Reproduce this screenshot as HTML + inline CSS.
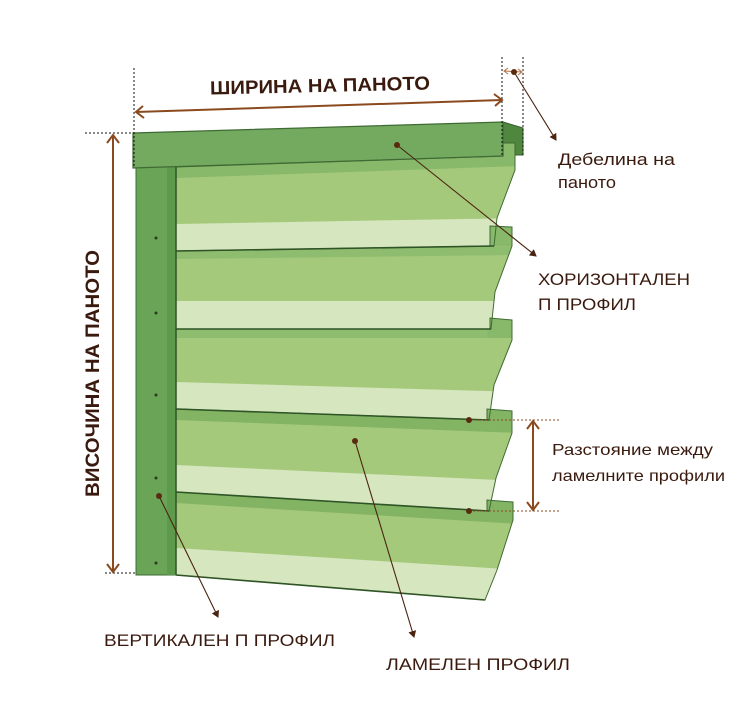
<!DOCTYPE html>
<html><head><meta charset="utf-8"><style>
html,body{margin:0;padding:0;background:#fff}
svg{display:block}
text{font-family:"Liberation Sans",sans-serif;fill:#3a1a0e}
</style></head><body>
<svg width="742" height="720" viewBox="0 0 742 720" xmlns="http://www.w3.org/2000/svg">
<defs>
<marker id="ab" markerWidth="8" markerHeight="8" refX="6" refY="4" orient="auto" markerUnits="userSpaceOnUse"><path d="M0,0 L7,4 L0,8 z" fill="#4a2410"/></marker>
<clipPath id="c1"><polygon points="176,167 503,156 503,143 515,143 515,170 497,218 494,246 176,251"/></clipPath>
<clipPath id="c2"><polygon points="176,251 490,246 490,226 512,227 512,246 495,292 491,329 176,329"/></clipPath>
<clipPath id="c3"><polygon points="176,329 490,329 490,318 512,320 512,340 494,385 489,420 176,409"/></clipPath>
<clipPath id="c4"><polygon points="176,409 487,420 487,409 512,411 512,433 496,478 489,511 176,492"/></clipPath>
<clipPath id="c5"><polygon points="176,492 487,511 487,500 513,502 513,520 497,570 485,600 176,575"/></clipPath>
</defs>

<!-- header side -->
<polygon points="503,122 523,128 523,155 503,155" fill="#4f873f" stroke="#35602a" stroke-width="1"/>

<!-- slats -->
<g clip-path="url(#c1)">
<rect x="170" y="140" width="350" height="120" fill="#a5c97b"/>
<polygon points="176,167 520,155 520,166 176,178" fill="#88b86a"/>
<rect x="500" y="140" width="20" height="20" fill="#88b86a"/>
<polygon points="176,224 520,218 520,260 176,260" fill="#d6e6be"/>
</g>
<g clip-path="url(#c2)">
<rect x="170" y="220" width="350" height="115" fill="#a5c97b"/>
<polygon points="176,251 520,246 520,255 176,259" fill="#8fbd70"/>
<rect x="487" y="224" width="30" height="22" fill="#88b86a"/>
<polygon points="176,301 520,301 520,340 176,340" fill="#d6e6be"/>
</g>
<g clip-path="url(#c3)">
<rect x="170" y="315" width="350" height="110" fill="#a5c97b"/>
<polygon points="176,329 520,329 520,338 176,338" fill="#8fbd70"/>
<rect x="487" y="316" width="30" height="22" fill="#88b86a"/>
<polygon points="176,382 520,392 520,430 176,430" fill="#d6e6be"/>
</g>
<g clip-path="url(#c4)">
<rect x="170" y="405" width="350" height="110" fill="#a5c97b"/>
<polygon points="176,409 520,421 520,433 176,420" fill="#82b464"/>
<rect x="485" y="407" width="30" height="24" fill="#82b464"/>
<polygon points="176,465 520,481 520,520 176,520" fill="#d6e6be"/>
</g>
<g clip-path="url(#c5)">
<rect x="170" y="490" width="350" height="115" fill="#a5c97b"/>
<polygon points="176,492 520,512 520,524 176,503" fill="#82b464"/>
<rect x="485" y="498" width="30" height="24" fill="#82b464"/>
<polygon points="176,548 520,570 520,610 176,610" fill="#d6e6be"/>
</g>
<g fill="none" stroke="#3f6a34" stroke-width="1">
<polygon points="176,167 503,156 503,143 515,143 515,170 497,218 494,246 176,251"/>
<polygon points="176,251 490,246 490,226 512,227 512,246 495,292 491,329 176,329"/>
<polygon points="176,329 490,329 490,318 512,320 512,340 494,385 489,420 176,409"/>
<polygon points="176,409 487,420 487,409 512,411 512,433 496,478 489,511 176,492"/>
<polygon points="176,492 487,511 487,500 513,502 513,520 497,570 485,600 176,575"/>
</g>
<g stroke="#2f5426" stroke-width="1.6">
<line x1="176" y1="251" x2="494" y2="246"/>
<line x1="176" y1="329" x2="491" y2="329"/>
<line x1="176" y1="409" x2="489" y2="420"/>
<line x1="176" y1="492" x2="489" y2="511"/>
<line x1="176" y1="575" x2="485" y2="600"/>
</g>

<!-- vertical profile -->
<rect x="136" y="167" width="40" height="408" fill="#6aa557" stroke="#3f6a34" stroke-width="1"/>
<rect x="167" y="167" width="9" height="408" fill="#5e9a4c"/>
<line x1="176" y1="167" x2="176" y2="575" stroke="#2f5426" stroke-width="1.5"/>
<g fill="#2a3a22">
<circle cx="156" cy="238" r="1.5"/><circle cx="156" cy="313" r="1.5"/><circle cx="156" cy="395" r="1.5"/><circle cx="156" cy="478" r="1.5"/><circle cx="156" cy="563" r="1.5"/>
</g>

<!-- header -->
<polygon points="133,133 503,122 503,156 133,168" fill="#73aa5f" stroke="#3f6a34" stroke-width="1.2"/>

<!-- dotted guides -->
<g stroke="#111" stroke-width="1" stroke-dasharray="2,2" fill="none">
<line x1="134" y1="68" x2="134" y2="168"/>
<line x1="502" y1="57" x2="502" y2="155"/>
<line x1="523" y1="57" x2="523" y2="155"/>
<line x1="85" y1="133" x2="134" y2="133"/>
<line x1="105" y1="573" x2="136" y2="573"/>
</g>
<g stroke="#8b4a1e" stroke-width="1" stroke-dasharray="2,2">
<line x1="469" y1="420" x2="560" y2="420"/>
<line x1="469" y1="511" x2="560" y2="511"/>
</g>

<!-- dimension arrows -->
<g stroke="#8b4a1e" stroke-width="2" fill="none">
<line x1="136" y1="112" x2="502" y2="100"/>
<polyline points="143,106 136,112 144,118"/>
<polyline points="494,94 502,100 495,106"/>
<line x1="113" y1="135" x2="113" y2="572"/>
<polyline points="107,143 113,135 119,143"/>
<polyline points="107,564 113,572 119,564"/>
<line x1="533" y1="421" x2="533" y2="510"/>
<polyline points="527,429 533,421 539,429"/>
<polyline points="527,502 533,510 539,502"/>
</g>
<g stroke="#b07040" stroke-width="1" fill="none">
<line x1="504" y1="71" x2="522" y2="72"/>
<polyline points="508,68 504,71 508,74"/>
<polyline points="518,69 522,72 518,75"/>
</g>

<!-- leaders -->
<g stroke="#4a2410" stroke-width="1.1" fill="none" marker-end="url(#ab)">
<line x1="514" y1="72" x2="556" y2="140"/>
<line x1="397" y1="145" x2="536" y2="256"/>
<line x1="159" y1="496" x2="218" y2="617"/>
<line x1="355" y1="441" x2="414" y2="637"/>
</g>
<g fill="#5a2a10">
<circle cx="514" cy="72" r="3"/><circle cx="397" cy="145" r="3"/><circle cx="159" cy="496" r="3"/><circle cx="355" cy="441" r="3"/><circle cx="469" cy="420" r="3"/><circle cx="469" cy="511" r="3"/>
</g>

<!-- labels -->
<text x="210" y="92" font-size="19" font-weight="bold" textLength="220" lengthAdjust="spacingAndGlyphs" transform="rotate(-1.3 320 85)">ШИРИНА НА ПАНОТО</text>
<text font-size="19" font-weight="bold" textLength="247" lengthAdjust="spacingAndGlyphs" transform="translate(99 497) rotate(-90)">ВИСОЧИНА НА ПАНОТО</text>
<text x="558" y="165" font-size="17" textLength="117" lengthAdjust="spacingAndGlyphs">Дебелина на</text>
<text x="558" y="188" font-size="17" textLength="58" lengthAdjust="spacingAndGlyphs">паното</text>
<text x="538" y="285" font-size="17" textLength="152" lengthAdjust="spacingAndGlyphs">ХОРИЗОНТАЛЕН</text>
<text x="538" y="310" font-size="17" textLength="98" lengthAdjust="spacingAndGlyphs">П ПРОФИЛ</text>
<text x="552" y="455" font-size="16" textLength="161" lengthAdjust="spacingAndGlyphs">Разстояние между</text>
<text x="552" y="481" font-size="16" textLength="173" lengthAdjust="spacingAndGlyphs">ламелните профили</text>
<text x="104" y="646" font-size="17" textLength="231" lengthAdjust="spacingAndGlyphs">ВЕРТИКАЛЕН П ПРОФИЛ</text>
<text x="386" y="670" font-size="17" textLength="184" lengthAdjust="spacingAndGlyphs">ЛАМЕЛЕН ПРОФИЛ</text>
</svg>
</body></html>
